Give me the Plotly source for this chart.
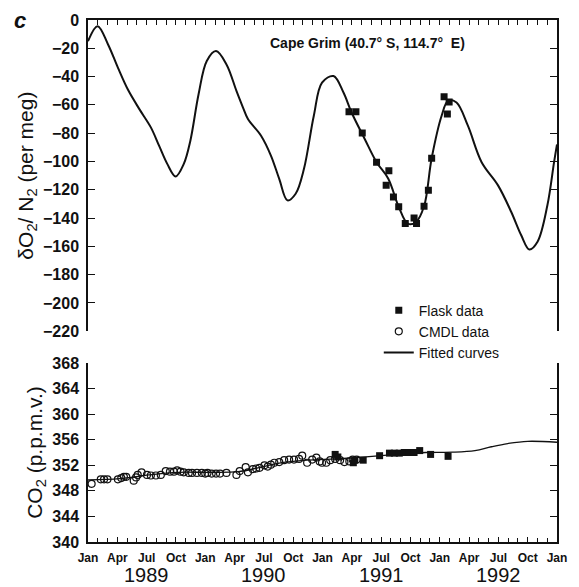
import plotly.graph_objects as go

# ---------------- data ----------------
# O2/N2 fitted curve (decimal year, per meg)
o2_fit_x = [1989.0, 1989.082, 1989.171, 1989.255, 1989.339, 1989.438, 1989.536, 1989.606,
            1989.676, 1989.747, 1989.817, 1989.873, 1989.943, 1990.013, 1990.092, 1990.181,
            1990.266, 1990.322, 1990.364, 1990.476, 1990.560, 1990.631, 1990.701, 1990.771,
            1990.842, 1990.926, 1990.996, 1991.094, 1991.179, 1991.248, 1991.360, 1991.461,
            1991.560, 1991.650, 1991.728, 1991.796, 1991.866, 1991.931, 1992.016, 1992.072,
            1992.143, 1992.240, 1992.357, 1992.497, 1992.610, 1992.694, 1992.764, 1992.834,
            1992.918, 1992.975, 1993.0]
o2_fit_y = [-15, -4.4, -17.3, -33.7, -49, -63, -75.9, -88.8,
            -101.7, -110.6, -101.7, -85.3, -52.5, -29, -22, -31.4,
            -50.1, -61.9, -70, -81.8, -95.8, -112.3, -127.5, -122.8,
            -105.2, -67.7, -44.3, -39.6, -51.3, -65.4, -84.1, -100.5,
            -112, -132, -144, -143, -131.7, -97.7, -67.7, -57,
            -58.3, -74.7, -100.5, -116.9, -135.7, -152, -162.2, -156.7,
            -131, -100.5, -88]

# O2/N2 flask data
o2_flask_x = [1991.226, 1991.285, 1991.339, 1991.461, 1991.566, 1991.543, 1991.605, 1991.650,
              1991.706, 1991.781, 1991.802, 1991.866, 1991.903, 1991.931, 1992.037, 1992.080,
              1992.065]
o2_flask_y = [-64.9, -64.9, -79.9, -100.5, -106.6, -116.9, -125.1, -132.1,
              -143.9, -139.9, -143.9, -131.7, -120.4, -97.7, -54.3, -57.9,
              -66.5]

# CO2 CMDL data
co2_cmdl_x = [1989.031, 1989.109, 1989.137, 1989.166, 1989.255, 1989.284, 1989.306, 1989.326,
              1989.390, 1989.410, 1989.424, 1989.457, 1989.503, 1989.536, 1989.579, 1989.621,
              1989.663, 1989.699, 1989.733, 1989.760, 1989.789, 1989.817, 1989.859, 1989.887,
              1989.929, 1989.971, 1990.000, 1990.019, 1990.055, 1990.092, 1990.126, 1990.181,
              1990.266, 1990.294, 1990.345, 1990.364, 1990.406, 1990.434, 1990.463, 1990.505,
              1990.533, 1990.560, 1990.589, 1990.631, 1990.673, 1990.715, 1990.757, 1990.800,
              1990.827, 1990.869, 1990.912, 1990.948, 1990.976, 1990.996, 1991.032, 1991.066,
              1991.108, 1991.150, 1991.187, 1991.229, 1991.257, 1991.291]
co2_cmdl_y = [349.1, 349.8, 349.8, 349.8, 349.8, 350.0, 350.2, 350.2,
              349.6, 350.1, 350.5, 350.9, 350.5, 350.4, 350.4, 350.5,
              351.1, 351.0, 351.0, 351.2, 351.0, 350.9, 350.8, 350.8,
              350.8, 350.8, 350.7, 350.8, 350.7, 350.7, 350.7, 350.8,
              350.5, 351.1, 351.7, 350.9, 351.4, 351.5, 351.6, 352.0,
              351.8, 352.1, 352.4, 352.5, 352.8, 352.9, 352.9, 353.0,
              353.5, 352.4, 352.9, 353.2, 352.6, 352.4, 352.4, 352.8,
              353.0, 352.8, 352.5, 352.6, 352.9, 352.9]

# CO2 flask data
co2_flask_x = [1991.108, 1991.131, 1991.263, 1991.276, 1991.347, 1991.487, 1991.571, 1991.613,
               1991.655, 1991.697, 1991.739, 1991.781, 1991.829, 1991.922, 1992.071]
co2_flask_y = [353.7, 353.3, 352.4, 352.8, 352.8, 353.5, 353.9, 353.9,
               353.9, 354.0, 354.0, 354.0, 354.3, 353.7, 353.4]

# CO2 fitted curve
co2_fit_x = [1989.0, 1989.27, 1989.52, 1989.77, 1990.03, 1990.28, 1990.45, 1990.62, 1990.87,
             1991.12, 1991.37, 1991.63, 1991.88, 1992.11, 1992.30, 1992.44, 1992.58, 1992.75,
             1993.0]
co2_fit_y = [349.7, 349.9, 350.5, 350.9, 350.9, 351.0, 351.6, 352.3, 352.8,
             353.0, 353.3, 353.7, 354.0, 354.05, 354.3, 354.9, 355.4, 355.75,
             355.6]

# axis labels
month_names = ["Jan", "Apr", "Jul", "Oct"]
years = [1989, 1990, 1991, 1992]
o2_ticks = list(range(-220, 1, 20))
co2_ticks = list(range(340, 369, 4))

tick_vals = [y + q * 0.25 for y in years for q in range(4)] + [1993]
tick_text = [m for _ in years for m in month_names] + ["Jan"]

FONT = "Liberation Sans, Arial, sans-serif"
BLACK = "#111111"

fig = go.Figure()

fig.add_trace(go.Scatter(x=o2_flask_x, y=o2_flask_y, mode="markers", name="Flask data",
                         legendgroup="flask",
                         marker=dict(symbol="square", size=7, color=BLACK),
                         xaxis="x", yaxis="y"))
fig.add_trace(go.Scatter(x=co2_cmdl_x, y=co2_cmdl_y, mode="markers", name="CMDL data",
                         legendgroup="cmdl",
                         marker=dict(symbol="circle-open", size=7, color=BLACK, line=dict(width=1.2)),
                         xaxis="x2", yaxis="y2"))
fig.add_trace(go.Scatter(x=o2_fit_x, y=o2_fit_y, mode="lines", name="Fitted curves",
                         legendgroup="fit",
                         line=dict(color=BLACK, width=2, shape="spline", smoothing=1.0),
                         xaxis="x", yaxis="y"))
fig.add_trace(go.Scatter(x=co2_fit_x, y=co2_fit_y, mode="lines", showlegend=False,
                         legendgroup="fit",
                         line=dict(color=BLACK, width=1.3, shape="spline", smoothing=1.0),
                         xaxis="x2", yaxis="y2"))
fig.add_trace(go.Scatter(x=co2_flask_x, y=co2_flask_y, mode="markers", showlegend=False,
                         legendgroup="flask",
                         marker=dict(symbol="square", size=7, color=BLACK),
                         xaxis="x2", yaxis="y2"))

tickfont = dict(family=FONT, size=16, color=BLACK, weight="bold")

fig.update_layout(
    width=579, height=587,
    margin=dict(l=88, r=16, t=17, b=45),
    paper_bgcolor="white", plot_bgcolor="white",
    font=dict(family=FONT, color=BLACK),
    xaxis=dict(domain=[0, 1], range=[1989, 1993], anchor="y", side="top",
               showline=True, linecolor=BLACK, linewidth=1.5,
               ticks="inside", tick0=1989, dtick=1/12, ticklen=5, tickcolor=BLACK,
               showticklabels=False, showgrid=False, zeroline=False),
    yaxis=dict(domain=[0.4038, 1], range=[-220, 0], anchor="x",
               showline=True, linecolor=BLACK, linewidth=1.5, mirror="ticks",
               ticks="inside", tickvals=o2_ticks, ticklen=7, tickcolor=BLACK,
               tickfont=tickfont, ticklabelstandoff=4,
               showgrid=False, zeroline=False,
               title=dict(text="δO<sub>2</sub>/ N<sub>2</sub> (per meg)",
                          font=dict(family=FONT, size=21, color=BLACK), standoff=4)),
    xaxis2=dict(domain=[0, 1], range=[1989, 1993], anchor="y2",
                showline=True, linecolor=BLACK, linewidth=1.5,
                ticks="inside", tickmode="array", tickvals=tick_vals, ticktext=tick_text,
                ticklen=5, tickcolor=BLACK,
                minor=dict(tick0=1989, dtick=1/12, ticks="inside", ticklen=4, tickcolor=BLACK),
                tickfont=dict(family=FONT, size=12, color=BLACK, weight="bold"),
                ticklabelstandoff=4,
                showgrid=False, zeroline=False),
    yaxis2=dict(domain=[0, 0.3429], range=[340, 368], anchor="x2",
                showline=True, linecolor=BLACK, linewidth=1.5, mirror="ticks",
                ticks="inside", tickvals=co2_ticks, ticklen=7, tickcolor=BLACK,
                tickfont=tickfont, ticklabelstandoff=4,
                showgrid=False, zeroline=False,
                title=dict(text="CO<sub>2</sub> (p.p.m.v.)",
                           font=dict(family=FONT, size=21, color=BLACK), standoff=4)),
    legend=dict(x=0.62, y=0.474, xanchor="left", yanchor="top",
                font=dict(family=FONT, size=14, color=BLACK),
                bgcolor="rgba(0,0,0,0)", tracegroupgap=0, itemwidth=30),
    showlegend=True,
)

annotations = [
    dict(text="<i><b>c</b></i>", x=-0.145, y=1.0, xref="paper", yref="paper",
         xanchor="center", yanchor="middle", showarrow=False,
         font=dict(family=FONT, size=22, color=BLACK)),
    dict(text="<b>Cape Grim (40.7° S, 114.7°  E)</b>", x=0.596, y=-16, xref="paper", yref="y",
         xanchor="center", yanchor="middle", showarrow=False,
         font=dict(family=FONT, size=14, color=BLACK)),
]
for yr in years:
    annotations.append(dict(text=str(yr), x=yr + 0.5, y=0, xref="x2", yref="paper",
                            xanchor="center", yanchor="middle", yshift=-33, showarrow=False,
                            font=dict(family=FONT, size=20, color=BLACK)))
fig.update_layout(annotations=annotations)

fig.write_html("out.html")
